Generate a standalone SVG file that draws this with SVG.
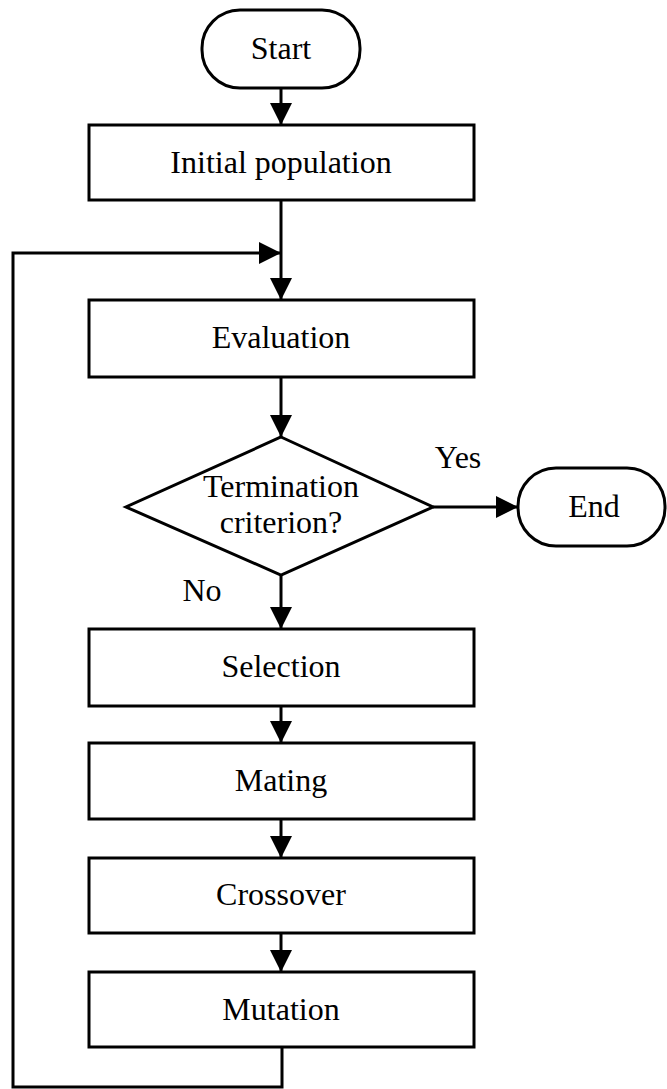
<svg xmlns="http://www.w3.org/2000/svg" width="667" height="1089" viewBox="0 0 667 1089">
  <style>
    .shape { fill: #ffffff; stroke: #000000; stroke-width: 3; }
    .edge { fill: none; stroke: #000000; stroke-width: 3; stroke-linejoin: miter; }
    .label { font-family: "Liberation Serif", "Times New Roman", serif; font-size: 32px; fill: #000000; text-anchor: middle; }
  </style>
  <defs>
    <marker id="arrow" markerUnits="userSpaceOnUse" markerWidth="24" markerHeight="24" viewBox="0 0 24 24" refX="22" refY="12" orient="auto">
      <path d="M0,1 L22,12 L0,23 z" fill="#000000"/>
    </marker>
  </defs>
  <rect width="667" height="1089" fill="#ffffff"/>

  <!-- connectors -->
  <g id="connectors">
    <path class="edge" d="M281,88 V125" marker-end="url(#arrow)"/>
    <path class="edge" d="M281,200 V300" marker-end="url(#arrow)"/>
    <path class="edge" d="M281,377 V437" marker-end="url(#arrow)"/>
    <path class="edge" d="M433,507 H518" marker-end="url(#arrow)"/>
    <path class="edge" d="M281,575 V629" marker-end="url(#arrow)"/>
    <path class="edge" d="M281,706 V743" marker-end="url(#arrow)"/>
    <path class="edge" d="M281,819 V858" marker-end="url(#arrow)"/>
    <path class="edge" d="M281,933 V972" marker-end="url(#arrow)"/>
    <!-- feedback loop from Mutation back to Evaluation -->
    <path class="edge" d="M282,1047 V1087 H13 V253 H281" marker-end="url(#arrow)"/>
    <text class="label" x="458" y="468">Yes</text>
    <text class="label" x="202" y="601">No</text>
  </g>

  <g id="start">
    <rect class="shape" x="202" y="10" width="158" height="78" rx="38" ry="38"/>
    <text class="label" x="281" y="59">Start</text>
  </g>

  <g id="initial-population">
    <rect class="shape" x="89" y="125" width="385" height="75"/>
    <text class="label" x="281" y="173">Initial population</text>
  </g>

  <g id="evaluation">
    <rect class="shape" x="89" y="300" width="385" height="77"/>
    <text class="label" x="281" y="348">Evaluation</text>
  </g>

  <g id="termination">
    <polygon class="shape" points="281,437 433,507 281,575 126,507"/>
    <text class="label" x="281" y="497">Termination</text>
    <text class="label" x="281" y="533">criterion?</text>
  </g>

  <g id="end">
    <rect class="shape" x="518" y="468" width="147" height="78" rx="38" ry="38"/>
    <text class="label" x="594" y="517">End</text>
  </g>

  <g id="selection">
    <rect class="shape" x="89" y="629" width="385" height="77"/>
    <text class="label" x="281" y="677">Selection</text>
  </g>

  <g id="mating">
    <rect class="shape" x="89" y="743" width="385" height="76"/>
    <text class="label" x="281" y="791">Mating</text>
  </g>

  <g id="crossover">
    <rect class="shape" x="89" y="858" width="385" height="75"/>
    <text class="label" x="281" y="905">Crossover</text>
  </g>

  <g id="mutation">
    <rect class="shape" x="89" y="972" width="385" height="75"/>
    <text class="label" x="281" y="1020">Mutation</text>
  </g>
</svg>
